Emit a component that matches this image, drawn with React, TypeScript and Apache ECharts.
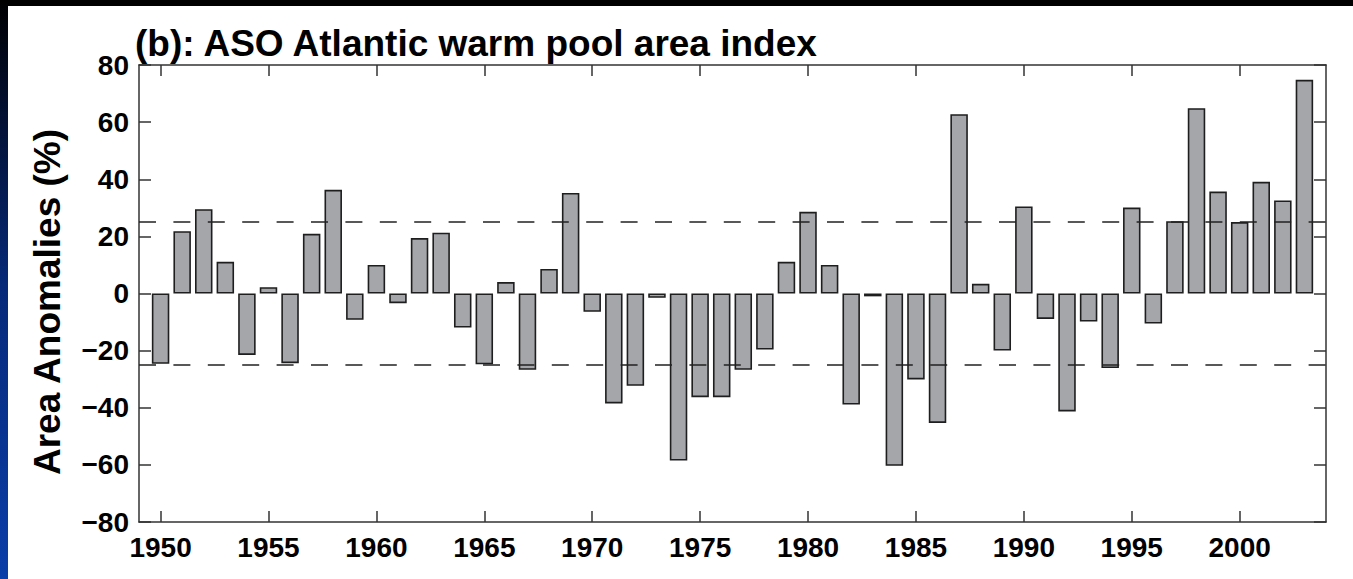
import React, { useEffect, useRef } from "react";
import * as echarts from "echarts";

const years: number[] = [];
for (let y = 1950; y <= 2003; y++) years.push(y);

const anomalies: number[] = [
  -24.6, 21.8, 29.5, 11.1, -21.5, 2.2, -24.4, 20.9, 36.3, -9.2,
  10.0, -3.4, 19.4, 21.3, -11.9, -24.8, 4.0, -26.7, 8.6, 35.2,
  -6.4, -38.5, -32.3, -1.5, -58.5, -36.3, -36.3, -26.7, -19.6, 11.1,
  28.6, 10.0, -38.9, -1.0, -60.3, -30.1, -45.3, 62.8, 3.4, -20.0,
  30.5, -8.9, -41.3, -9.8, -26.1, 30.1, -10.5, 25.3, 64.9, 35.7,
  25.0, 39.1, 32.6, 74.8,
];

const xTickYears = [1950, 1955, 1960, 1965, 1970, 1975, 1980, 1985, 1990, 1995, 2000];
const thresholds = [25, -25];

const titleText = "(b): ASO Atlantic warm pool area index";
const yTitle = "Area Anomalies (%)";

const FONT = '"Liberation Sans", Arial, Helvetica, sans-serif';
const AXIS_COLOR = "#333";

export default function App() {
  const ref = useRef<HTMLDivElement>(null);
  useEffect(() => {
    if (!ref.current) return;
    const chart = echarts.init(ref.current, null, { renderer: "svg" });
    const fmtY = (v: number) => (v < 0 ? "\u2212" + Math.abs(v) : String(v));
    chart.setOption({
      animation: false,
      backgroundColor: "#ffffff",
      textStyle: { fontFamily: FONT },
      title: {
        text: titleText,
        left: 135,
        top: 25,
        padding: 0,
        textStyle: { fontFamily: FONT, fontWeight: "bold", fontSize: 37, color: "#000" },
      },
      graphic: [
        { type: "rect", shape: { x: 0, y: 0, width: 1353, height: 6 }, style: { fill: "#000" }, silent: true },
        {
          type: "rect",
          shape: { x: 0, y: 0, width: 8, height: 579 },
          style: {
            fill: new echarts.graphic.LinearGradient(0, 0, 0, 1, [
              { offset: 0, color: "#000000" },
              { offset: 0.12, color: "#020a20" },
              { offset: 0.5, color: "#062a7a" },
              { offset: 1, color: "#0a3ea8" },
            ]),
          },
          silent: true,
        },
        {
          type: "text",
          x: 47,
          y: 302,
          rotation: Math.PI / 2,
          style: {
            text: yTitle,
            fontFamily: FONT,
            fontWeight: "bold",
            fontSize: 37,
            fill: "#000",
            align: "center",
            verticalAlign: "middle",
          },
          silent: true,
        },
      ],
      grid: { left: 139, right: 27, top: 65, bottom: 57, containLabel: false },
      xAxis: [
        {
          type: "value",
          min: 1949,
          max: 2004,
          position: "bottom",
          splitLine: { show: false },
          axisLine: { show: true, onZero: false, lineStyle: { color: AXIS_COLOR, width: 1.5 } },
          axisTick: { show: true, inside: true, length: 11, customValues: xTickYears, lineStyle: { color: AXIS_COLOR, width: 1.5 } },
          axisLabel: {
            show: true,
            customValues: xTickYears,
            margin: 11,
            fontFamily: FONT,
            fontWeight: "bold",
            fontSize: 28,
            color: "#000",
            formatter: (v: number) => String(v),
          },
        },
        {
          type: "value",
          min: 1949,
          max: 2004,
          position: "top",
          splitLine: { show: false },
          axisLine: { show: true, onZero: false, lineStyle: { color: AXIS_COLOR, width: 1.5 } },
          axisTick: { show: true, inside: true, length: 11, customValues: xTickYears, lineStyle: { color: AXIS_COLOR, width: 1.5 } },
          axisLabel: { show: false },
        },
      ],
      yAxis: [
        {
          type: "value",
          min: -80,
          max: 80,
          interval: 20,
          position: "left",
          splitLine: { show: false },
          axisLine: { show: true, onZero: false, lineStyle: { color: AXIS_COLOR, width: 1.5 } },
          axisTick: { show: true, inside: true, length: 12, lineStyle: { color: AXIS_COLOR, width: 1.5 } },
          axisLabel: {
            margin: 10,
            fontFamily: FONT,
            fontWeight: "bold",
            fontSize: 28,
            color: "#000",
            formatter: fmtY,
          },
        },
        {
          type: "value",
          min: -80,
          max: 80,
          interval: 20,
          position: "right",
          splitLine: { show: false },
          axisLine: { show: true, onZero: false, lineStyle: { color: AXIS_COLOR, width: 1.5 } },
          axisTick: { show: true, inside: true, length: 12, lineStyle: { color: AXIS_COLOR, width: 1.5 } },
          axisLabel: { show: false },
        },
      ],
      series: [
        {
          type: "bar",
          xAxisIndex: 0,
          yAxisIndex: 0,
          barWidth: "81%",
          data: years.map((y, i) => [y, anomalies[i]]),
          itemStyle: { color: "#a5a6aa", borderColor: "#1e1e1e", borderWidth: 1.6 },
          silent: true,
          markLine: {
            silent: true,
            symbol: ["none", "none"],
            label: { show: false },
            lineStyle: { color: "#222", width: 1.5, type: [17, 17.4] },
            data: thresholds.map((t) => ({ yAxis: t })),
          },
        },
      ],
    });
    return () => chart.dispose();
  }, []);
  return (
    <div style={{ position: "fixed", left: 0, top: 0, width: 1353, height: 579, background: "#fff" }}>
      <div ref={ref} style={{ width: 1353, height: 579 }} />
    </div>
  );
}
